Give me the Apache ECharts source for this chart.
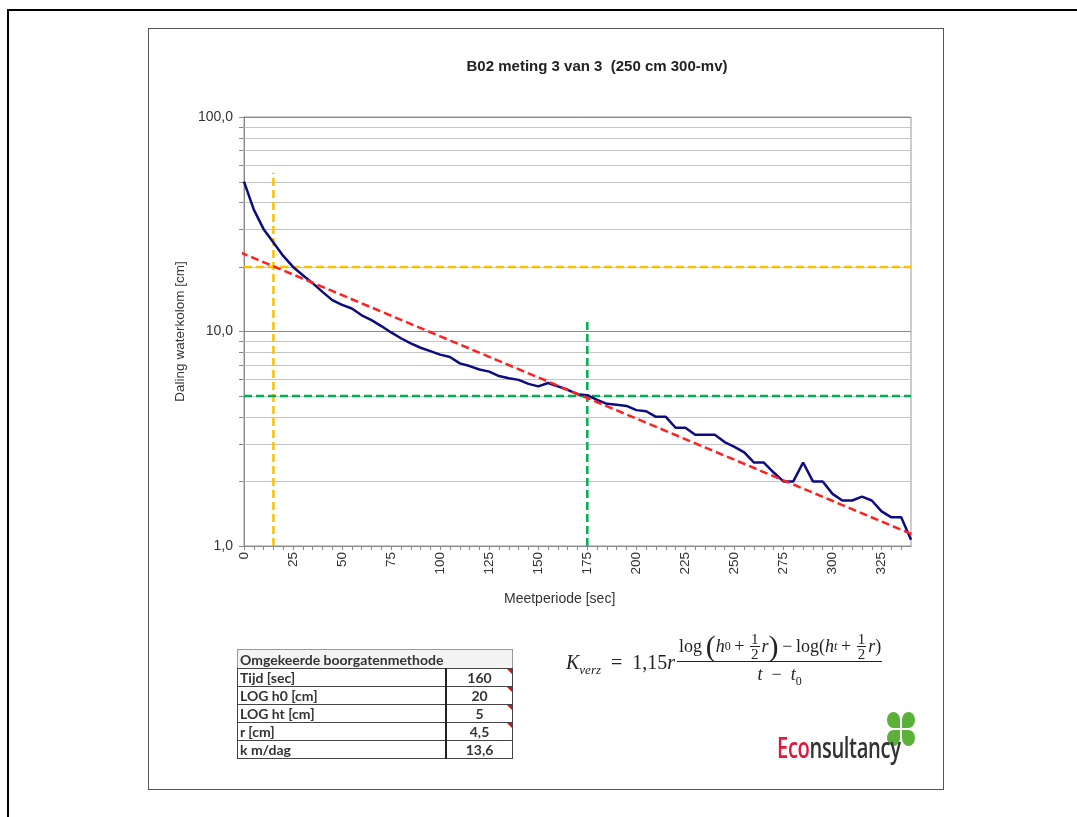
<!DOCTYPE html>
<html>
<head>
<meta charset="utf-8">
<script src="https://cdn.jsdelivr.net/npm/echarts@6/dist/echarts.min.js"></script>
<style>
  html, body { margin: 0; padding: 0; background: #fff; }
  body { width: 1077px; height: 817px; position: relative; overflow: hidden; font-family: "Liberation Sans", Arial, sans-serif; }
  #outer { position: absolute; left: 7px; top: 9px; width: 1200px; height: 900px; border-top: 2px solid #000; border-left: 2px solid #000; }
  #inner { position: absolute; left: 148px; top: 28px; width: 794px; height: 760px; border: 1px solid #555; }
  #chart { position: absolute; left: 0; top: 0; width: 1077px; height: 817px; }
  #tbl { position: absolute; left: 237px; top: 649px; border-collapse: collapse; font-family: Lato, "Open Sans", sans-serif; font-weight: bold; font-size: 14px; color: #333; z-index: 5; }
  #tbl td { border: 1px solid #444; padding: 0 0 0 2px; height: 17px; line-height: 17px; position: relative; }
  #tbl td.v { text-align: center; border-left: 2px solid #222; padding: 0; }
  #tbl tr.h td { background: #f4f4f4; height: 18px; border-color: #999; border-bottom-color: #444; }
  .tri { position: absolute; right: 0; top: 0; width: 0; height: 0; border-top: 5px solid #e01010; border-left: 5px solid transparent; }
  #formula { position: absolute; left: 566px; top: 631px; font-family: "Liberation Serif", "DejaVu Serif", serif; font-size: 18px; color: #222; display: flex; align-items: center; z-index: 5; }
  #formula i { font-style: italic; }
  .kpart { position: relative; top: 4px; font-size: 20px; }
  .kpart sub { font-size: 13px; }
  .frac { display: inline-flex; flex-direction: column; align-items: center; margin-left: 2px; }
  .num { display: flex; align-items: center; padding: 0 1px 0 2px; border-bottom: 1px solid #222; }
  .den { padding-top: 2px; line-height: 20px; }
  .sf { display: inline-flex; flex-direction: column; align-items: center; font-size: 15px; line-height: 14px; margin: 0 2px; }
  .sf span:first-child { border-bottom: 1px solid #222; padding: 0 1px; }
  .big { font-size: 30px; line-height: 30px; }
  sub { font-size: 12px; }
  #logo { position: absolute; left: 777px; top: 728px; font-family: "Open Sans", sans-serif; font-size: 28px; font-weight: 600; letter-spacing: -0.5px; transform: scaleX(0.72); transform-origin: left top; color: #333; z-index: 5; white-space: nowrap; }
  #logo .e { color: #e0183c; }
  .leaf { position: absolute; width: 13px; height: 16px; background: #5bb03a; z-index: 5; }
</style>
</head>
<body>
<div id="outer"></div>
<div id="inner"></div>
<div id="chart"></div>

<table id="tbl"></table>

<div id="formula">
  <span class="kpart"><i>K</i><sub><i>verz</i></sub>&ensp;=&ensp;1,15<i>r</i></span>
  <span class="frac">
    <span class="num">log&thinsp;<span class="big">(</span><i>h</i><sub>0</sub>&thinsp;+&thinsp;<span class="sf"><span>1</span><span>2</span></span><i>r</i><span class="big">)</span>&thinsp;−&thinsp;log(<i>h</i><sub><i>t</i></sub>&thinsp;+&thinsp;<span class="sf"><span>1</span><span>2</span></span><i>r</i>)</span>
    <span class="den"><i>t</i>&ensp;−&ensp;<i>t</i><sub>0</sub></span>
  </span>
</div>

<div class="leaf" style="left:887px;top:712px;border-radius:50% 50% 0 50%;"></div>
<div class="leaf" style="left:902px;top:712px;border-radius:50% 50% 50% 0;"></div>
<div class="leaf" style="left:887px;top:730px;border-radius:50% 0 50% 50%;"></div>
<div class="leaf" style="left:902px;top:730px;border-radius:0 50% 50% 50%;"></div>
<div id="logo"><span class="e">Eco</span>nsultancy</div>

<script>
// ---- data ----
const titleText = 'B02 meting 3 van 3  (250 cm 300-mv)';
const yAxisName = 'Daling waterkolom [cm]';
const xAxisName = 'Meetperiode [sec]';

const times = [0,5,10,15,20,25,30,35,40,45,50,55,60,65,70,75,80,85,90,95,100,105,110,115,120,125,130,135,140,145,150,155,160,165,170,175,180,185,190,195,200,205,210,215,220,225,230,235,240,245,250,255,260,265,270,275,280,285,290,295,300,305,310,315,320,325,330,335,340];
const depth = [50,37,30,26,22.5,20,18.3,16.8,15.3,14,13.3,12.8,11.9,11.3,10.6,9.9,9.3,8.8,8.4,8.1,7.8,7.6,7.1,6.9,6.65,6.5,6.2,6.05,5.95,5.7,5.55,5.75,5.55,5.35,5.1,5.05,4.8,4.6,4.55,4.5,4.3,4.25,4.0,4.0,3.56,3.56,3.3,3.3,3.3,3.05,2.9,2.73,2.45,2.45,2.2,2.0,2.0,2.45,2.0,2.0,1.75,1.63,1.63,1.7,1.63,1.45,1.36,1.36,1.07];

const trendX = [-2, 345];
const trendY = [23.4, 1.09];

const orangeVX = [15, 15],  orangeVY = [1, 55];
const orangeHX = [0, 340],  orangeHY = [20, 20];
const greenVX  = [175, 175], greenVY = [1, 11.3];
const greenHX  = [0, 340],  greenHY = [5, 5];

const minorGrid = [2,3,4,5,6,7,8,9,20,30,40,50,60,70,80,90];
const xLabelEvery = 25;
const xLastLabel = 325;

const tableTitle = 'Omgekeerde boorgatenmethode';
const tableLabels = ['Tijd [sec]', 'LOG h0 [cm]', 'LOG ht [cm]', 'r [cm]', 'k m/dag'];
const tableValues = ['160', '20', '5', '4,5', '13,6'];
const tableFlags  = [true, true, true, true, false];

// ---- table ----
(function(){
  const t = document.getElementById('tbl');
  let html = '<tr class="h"><td colspan="2" style="width:272px">' + tableTitle + '</td></tr>';
  tableLabels.forEach((l, i) => {
    html += '<tr><td style="width:205px">' + l + '</td><td class="v" style="width:65px">' + tableValues[i] +
      (tableFlags[i] ? '<span class="tri"></span>' : '') + '</td></tr>';
  });
  t.innerHTML = html;
})();

// ---- chart ----
const pair = (xs, ys) => xs.map((x, i) => [x, ys[i]]);
const chart = echarts.init(document.getElementById('chart'), null, { renderer: 'canvas' });

const dashLine = (name, xs, ys, color, dash) => ({
  name, type: 'line', data: pair(xs, ys), symbol: 'none', clip: false, z: 3,
  lineStyle: { color, width: 2.5, type: dash }, silent: true, animation: false
});

chart.setOption({
  animation: false,
  backgroundColor: 'transparent',
  title: {
    text: titleText, left: 592, top: 54, textAlign: 'center',
    textStyle: { fontFamily: 'Liberation Sans', fontSize: 15, fontWeight: 'bold', color: '#222' }
  },
  grid: { left: 244, top: 117, width: 667, height: 429, show: true, borderColor: '#999', borderWidth: 1, containLabel: false },
  graphic: [{
    type: 'text', left: 504, top: 592,
    style: { text: xAxisName, font: '14px "Liberation Sans"', fill: '#333' }
  }],
  xAxis: {
    type: 'value', min: 0, max: 340, interval: 5,
    axisLine: { lineStyle: { color: '#888' } },
    axisTick: { length: 4, lineStyle: { color: '#888' } },
    splitLine: { show: false },
    axisLabel: {
      rotate: 90, margin: 6, color: '#333', fontFamily: 'Liberation Sans', fontSize: 13.5,
      showMaxLabel: false,
      formatter: v => (v % xLabelEvery === 0 && v <= xLastLabel) ? String(v) : ''
    }
  },
  yAxis: {
    type: 'log', logBase: 10, min: 1, max: 100,
    name: yAxisName, nameLocation: 'middle', nameGap: 55,
    nameTextStyle: { fontFamily: 'Liberation Sans', fontSize: 13.5, color: '#333' },
    axisLine: { show: true, lineStyle: { color: '#888' } },
    axisTick: { show: true, length: 5, lineStyle: { color: '#888' } },
    splitLine: { show: true, lineStyle: { color: '#8a8a8a', width: 1 } },
    axisLabel: { color: '#333', fontFamily: 'Liberation Sans', fontSize: 14, margin: 11,
      formatter: v => v.toFixed(1).replace('.', ',') }
  },
  series: [
    {
      type: 'custom', silent: true, clip: false, z: 1,
      data: minorGrid.map(v => [0, v]),
      renderItem: (params, api) => {
        const p = api.coord([0, api.value(1)]);
        const cs = params.coordSys;
        const y = Math.round(p[1]) + 0.5;
        return { type: 'group', children: [
          { type: 'line', shape: { x1: cs.x, y1: y, x2: cs.x + cs.width, y2: y }, style: { stroke: '#c4c4c4', lineWidth: 1 } },
          { type: 'line', shape: { x1: cs.x - 5, y1: y, x2: cs.x, y2: y }, style: { stroke: '#888', lineWidth: 1 } }
        ]};
      }
    },
    dashLine('orangeV', orangeVX, orangeVY, '#ffc000', [8, 4]),
    dashLine('orangeH', orangeHX, orangeHY, '#ffc000', [8, 4]),
    dashLine('greenV', greenVX, greenVY, '#00b050', [8, 4]),
    dashLine('greenH', greenHX, greenHY, '#00b050', [8, 4]),
    {
      name: 'meting', type: 'line', data: pair(times, depth), symbol: 'none', z: 4,
      lineStyle: { color: '#0c0c80', width: 2.5 }
    },
    Object.assign(dashLine('trend', trendX, trendY, '#ff2020', [8, 4]), { z: 5 })
  ]
});
</script>
</body>
</html>
